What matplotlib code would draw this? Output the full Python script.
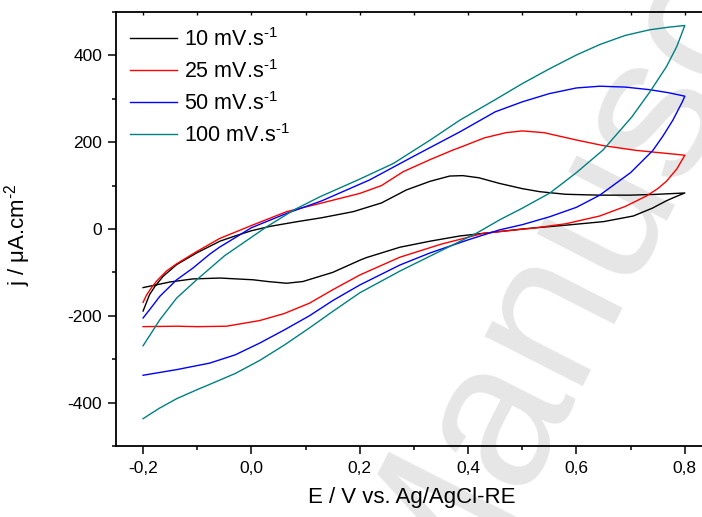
import matplotlib
matplotlib.use("Agg")
import matplotlib.pyplot as plt
from matplotlib.ticker import MultipleLocator, FuncFormatter

plt.rcParams["font.family"] = ["Liberation Sans", "DejaVu Sans"]
plt.rcParams["mathtext.fontset"] = "custom"
plt.rcParams["mathtext.rm"] = "Liberation Sans"
plt.rcParams["mathtext.default"] = "regular"

# cyclic voltammograms: potential (V) and current density (uA/cm2)
e_10 = [-0.200, -0.194, -0.188, -0.178, -0.163, -0.138, -0.101, -0.058, -0.030, 0.000,
        0.034, 0.080, 0.130, 0.188, 0.240, 0.286, 0.330, 0.366, 0.390, 0.420, 0.458,
        0.500, 0.532, 0.580, 0.642, 0.700, 0.750, 0.800,
        0.790, 0.775, 0.766, 0.740, 0.705, 0.650, 0.582, 0.500, 0.428, 0.385, 0.330,
        0.274, 0.212, 0.200, 0.150, 0.095, 0.065, 0.030, 0.003, -0.058, -0.108, -0.150, -0.200]
j_10 = [-189, -170, -151, -132, -109, -82, -55, -28, -16, -4,
        6, 16, 26, 40, 60, 90, 110, 122, 123, 118, 105,
        93, 86, 80, 78, 78, 80, 83,
        78, 70, 65, 48, 30, 17, 9, 0, -10, -16, -28,
        -42, -66, -72, -100, -121, -125, -121, -117, -113, -115, -122, -135]

e_25 = [-0.200, -0.194, -0.185, -0.175, -0.157, -0.138, -0.101, -0.059, 0.000, 0.065,
        0.130, 0.200, 0.240, 0.280, 0.330, 0.372, 0.385, 0.430, 0.470, 0.500, 0.540,
        0.600, 0.650, 0.711, 0.760, 0.800,
        0.785, 0.766, 0.750, 0.729, 0.690, 0.643, 0.580, 0.520, 0.428, 0.350, 0.274,
        0.200, 0.150, 0.107, 0.060, 0.015, -0.046, -0.100, -0.138, -0.200]
j_25 = [-169, -153, -136, -120, -97, -80, -52, -22, 8, 40,
        60, 82, 100, 132, 160, 182, 188, 210, 222, 226, 222,
        205, 192, 181, 175, 170,
        138, 110, 93, 76, 52, 30, 12, 2, -10, -35, -65,
        -106, -140, -171, -195, -211, -224, -225, -224, -225]

e_50 = [-0.200, -0.188, -0.169, -0.138, -0.108, -0.077, -0.059, -0.030, 0.000, 0.065,
        0.130, 0.218, 0.300, 0.385, 0.450, 0.500, 0.550, 0.600, 0.643, 0.690, 0.735,
        0.770, 0.800,
        0.795, 0.790, 0.778, 0.760, 0.741, 0.700, 0.643, 0.600, 0.550, 0.500, 0.458,
        0.400, 0.330, 0.274, 0.200, 0.150, 0.107, 0.060, 0.015, -0.030, -0.077, -0.138, -0.200]
j_50 = [-205, -186, -155, -117, -90, -58, -42, -20, 3, 36,
        65, 113, 168, 224, 270, 293, 312, 325, 329, 327, 321,
        314, 306,
        292, 280, 251, 215, 181, 130, 78, 50, 28, 10, -2,
        -25, -55, -83, -129, -165, -200, -233, -263, -290, -309, -324, -337]

e_100 = [-0.200, -0.169, -0.138, -0.101, -0.050, 0.028, 0.080, 0.126, 0.200, 0.262,
         0.330, 0.385, 0.450, 0.500, 0.550, 0.600, 0.643, 0.690, 0.735, 0.770, 0.800,
         0.785, 0.766, 0.735, 0.702, 0.649, 0.600, 0.551, 0.500, 0.458, 0.415, 0.350,
         0.274, 0.200, 0.150, 0.107, 0.060, 0.015, -0.030, -0.077, -0.100, -0.138,
         -0.170, -0.200]
j_100 = [-269, -209, -159, -117, -62, 5, 45, 74, 115, 151,
         205, 251, 298, 335, 369, 401, 425, 446, 459, 465, 469,
         420, 374, 315, 258, 182, 130, 83, 48, 21, -10, -50,
         -97, -147, -190, -228, -268, -303, -333, -358, -370, -391,
         -413, -437]

labels = ["10 mV.s$^{\\text{-1}}$", "25 mV.s$^{\\text{-1}}$",
          "50 mV.s$^{\\text{-1}}$", "100 mV.s$^{\\text{-1}}$"]
colors = ["#000000", "#ff0000", "#0000ff", "#008080"]

fig = plt.figure(figsize=(7.02, 5.17), dpi=100)
ax = fig.add_axes([116 / 702, 71 / 517, 590.5 / 702, 434 / 517])
ax.set_facecolor("none")

# watermark behind the axes
fig.text(0.6225, -0.238, "Manuscript", fontsize=150, color="#e6e6e6",
         rotation=63, rotation_mode="anchor", ha="left", va="baseline", zorder=-1)

for e, j, lab, c in zip([e_10, e_25, e_50, e_100], [j_10, j_25, j_50, j_100], labels, colors):
    ax.plot(e, j, color=c, lw=1.0, label=lab)

ax.set_xlim(-0.25, 0.84)
ax.set_ylim(-500, 500)
ax.xaxis.set_major_locator(MultipleLocator(0.2))
ax.xaxis.set_minor_locator(MultipleLocator(0.1))
ax.yaxis.set_major_locator(MultipleLocator(200))
ax.yaxis.set_minor_locator(MultipleLocator(100))
ax.xaxis.set_major_formatter(FuncFormatter(lambda v, p: f"{v:.1f}".replace(".", ",").replace("-0,0", "0,0")))
ax.yaxis.set_major_formatter(FuncFormatter(lambda v, p: f"{v:.0f}"))

for s in ["left", "bottom", "top"]:
    ax.spines[s].set_linewidth(1.3)
ax.spines["right"].set_visible(False)
ax.tick_params(which="major", direction="out", length=6, width=1.1, labelsize=12.5, pad=4)
ax.tick_params(which="minor", direction="out", length=3, width=1.1)
ax.tick_params(axis="x", which="major", pad=5)

top = ax.secondary_xaxis("top")
top.xaxis.set_major_locator(MultipleLocator(0.2))
top.xaxis.set_minor_locator(MultipleLocator(0.1))
top.tick_params(which="both", direction="in", length=2, width=1.0, labeltop=False)
top.spines["top"].set_visible(False)

ax.set_xlabel("E / V vs. Ag/AgCl-RE", fontsize=16)
ax.set_ylabel("j / \u03bcA.cm$^{\\text{-2}}$", fontsize=16)
ax.xaxis.set_label_coords(0.5, -0.095)
ax.yaxis.set_label_coords(-0.141, 0.486)

ax.legend(loc="upper left", bbox_to_anchor=(0.0237, 0.963), frameon=False, fontsize=15.5,
          handlelength=2.2, handletextpad=0.3, labelspacing=0.42, borderpad=0, borderaxespad=0)

fig.savefig("out.png", dpi=100)
